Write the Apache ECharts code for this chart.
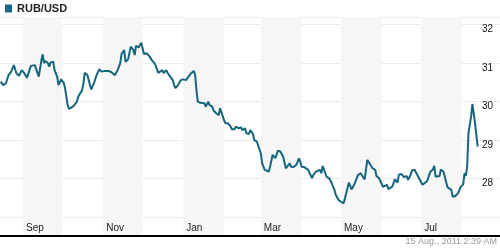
<!DOCTYPE html>
<html><head><meta charset="utf-8">
<script src="https://cdn.jsdelivr.net/npm/echarts@6/dist/echarts.min.js"></script>
<style>html,body{margin:0;padding:0;background:#fff}#c{width:500px;height:250px}</style>
</head><body><div id="c"></div>
<script>
const seriesName = 'RUB/USD';
const dates = [
'2010-08-15','2010-08-17','2010-08-19','2010-08-21','2010-08-23','2010-08-25','2010-08-26','2010-08-27','2010-08-29','2010-08-31',
'2010-09-02','2010-09-04','2010-09-05','2010-09-07','2010-09-08','2010-09-10','2010-09-11','2010-09-13','2010-09-14','2010-09-15','2010-09-16','2010-09-17','2010-09-18','2010-09-20','2010-09-21','2010-09-22','2010-09-24','2010-09-25','2010-09-27','2010-09-28','2010-09-29','2010-09-30',
'2010-10-02','2010-10-03','2010-10-05','2010-10-06','2010-10-08','2010-10-10','2010-10-12','2010-10-13','2010-10-14','2010-10-16','2010-10-17','2010-10-18','2010-10-20','2010-10-21','2010-10-22','2010-10-23','2010-10-25','2010-10-27','2010-10-28','2010-10-29','2010-10-31',
'2010-11-02','2010-11-03','2010-11-05','2010-11-07','2010-11-08','2010-11-10','2010-11-11','2010-11-12','2010-11-14','2010-11-15','2010-11-17','2010-11-18','2010-11-20','2010-11-21','2010-11-22','2010-11-24','2010-11-25','2010-11-26','2010-11-28','2010-11-30',
'2010-12-01','2010-12-02','2010-12-04','2010-12-06','2010-12-08','2010-12-10','2010-12-11','2010-12-13','2010-12-14','2010-12-16','2010-12-17','2010-12-19','2010-12-20','2010-12-22','2010-12-24','2010-12-25','2010-12-26','2010-12-28','2010-12-30',
'2011-01-01','2011-01-03','2011-01-05','2011-01-07','2011-01-09','2011-01-10','2011-01-11','2011-01-12','2011-01-14','2011-01-15','2011-01-17','2011-01-18','2011-01-20','2011-01-21','2011-01-23','2011-01-24','2011-01-26','2011-01-27','2011-01-28','2011-01-29','2011-01-30',
'2011-02-01','2011-02-02','2011-02-04','2011-02-06','2011-02-07','2011-02-09','2011-02-10','2011-02-12','2011-02-14','2011-02-15','2011-02-17','2011-02-18','2011-02-20','2011-02-21','2011-02-23','2011-02-24','2011-02-26','2011-02-27',
'2011-03-01','2011-03-02','2011-03-04','2011-03-05','2011-03-07','2011-03-08','2011-03-10','2011-03-11','2011-03-12','2011-03-14','2011-03-16','2011-03-18','2011-03-20','2011-03-21','2011-03-23','2011-03-24','2011-03-26','2011-03-28','2011-03-30','2011-03-31',
'2011-04-01','2011-04-03','2011-04-04','2011-04-06','2011-04-07','2011-04-09','2011-04-10','2011-04-12','2011-04-13','2011-04-15','2011-04-16','2011-04-17','2011-04-18','2011-04-20','2011-04-22','2011-04-24','2011-04-26','2011-04-27','2011-04-29',
'2011-05-01','2011-05-03','2011-05-04','2011-05-05','2011-05-07','2011-05-08','2011-05-09','2011-05-11','2011-05-12','2011-05-14','2011-05-16','2011-05-17','2011-05-19','2011-05-20','2011-05-21','2011-05-23','2011-05-24','2011-05-25','2011-05-27','2011-05-28','2011-05-30','2011-05-31',
'2011-06-02','2011-06-05','2011-06-06','2011-06-09','2011-06-11','2011-06-13','2011-06-14','2011-06-16','2011-06-18','2011-06-20','2011-06-21','2011-06-23','2011-06-24','2011-06-26','2011-06-28','2011-06-30',
'2011-07-02','2011-07-03','2011-07-05','2011-07-06','2011-07-08','2011-07-10','2011-07-11','2011-07-12','2011-07-13','2011-07-15','2011-07-16','2011-07-18','2011-07-19','2011-07-21','2011-07-22','2011-07-24','2011-07-25','2011-07-27','2011-07-29','2011-07-31',
'2011-08-02','2011-08-03','2011-08-04','2011-08-05','2011-08-06','2011-08-08','2011-08-09','2011-08-10','2011-08-11','2011-08-13'
];
const values = [
30.51,30.42,30.47,30.68,30.77,30.94,30.92,30.73,30.66,30.81,
30.73,30.61,30.64,30.92,30.88,30.94,30.96,30.64,30.60,31.07,31.22,30.99,31.05,30.99,30.90,31.01,31.03,30.81,30.64,30.42,30.44,30.57,
30.48,30.34,29.90,29.80,29.84,29.90,29.99,30.12,30.08,30.29,30.47,30.74,30.68,30.64,30.42,30.31,30.47,30.68,30.66,30.83,30.77,
30.79,30.76,30.79,30.76,30.79,30.68,30.64,30.81,30.99,31.23,31.33,31.03,31.09,31.12,31.42,31.33,31.20,31.44,31.40,31.52,
31.38,31.23,31.25,31.18,31.07,30.99,30.92,30.74,30.77,30.81,30.73,30.81,30.74,30.64,30.55,30.42,30.34,30.42,30.55,
30.57,30.55,30.64,30.73,30.79,30.68,30.29,29.99,29.96,30.01,29.95,29.86,29.99,29.90,29.86,29.76,29.69,29.70,29.64,29.82,29.77,
29.51,29.43,29.43,29.34,29.27,29.28,29.34,29.30,29.32,29.25,29.30,29.17,29.15,29.25,29.15,28.99,28.95,28.84,
28.65,28.39,28.22,28.17,28.17,28.30,28.61,28.65,28.52,28.72,28.69,28.56,28.26,28.23,28.39,28.30,28.29,28.35,28.52,28.43,
28.30,28.29,28.26,28.22,28.23,28.00,28.09,28.17,28.22,28.22,28.13,28.32,28.29,28.04,28.00,27.87,27.70,27.57,27.44,
27.39,27.35,27.39,27.61,27.89,27.87,27.71,27.83,27.87,28.09,28.13,28.09,27.97,28.22,28.48,28.37,28.41,28.26,28.22,28.06,28.00,28.03,
27.78,27.83,27.72,27.78,27.97,27.89,28.09,28.11,28.03,28.06,27.96,28.09,28.20,28.22,28.09,27.96,
27.83,27.81,27.91,27.97,28.17,28.23,28.32,28.04,28.09,28.06,28.23,28.17,28.13,27.77,27.74,27.70,27.52,27.54,27.61,27.77,
27.84,28.13,28.06,28.30,29.17,29.60,29.93,29.90,29.43,28.82
];
const monthTickIndex = [8, 10, 0, 2, 4, 6];
const monthTickLabels = ['Sep', 'Nov', 'Jan', 'Mar', 'May', 'Jul'];
const yTickLabels = [28, 29, 30, 31, 32];
const stampText = '15 Aug., 2011 2:39 AM';
const xMin = '2010-08-14 12:00';
const xMax = '2011-08-30';
const yMin = 26.5, yMax = 32.19, yStep = 0.5;

const FONT = '"Liberation Sans", Arial, sans-serif';
const gridColors = [];
for (let v = yMin; v <= 32 + 1e-9; v += yStep) {
  const r = Math.round(v * 10) / 10;
  gridColors.push(Number.isInteger(r) && r >= 27 ? '#ebebeb' : 'rgba(0,0,0,0)');
}
gridColors.push('#ebebeb');

const chart = echarts.init(document.getElementById('c'), null, {renderer: 'canvas'});
chart.setOption({
  animation: false,
  backgroundColor: '#fff',
  legend: {
    data: [seriesName], left: 5, top: 3, padding: 0, icon: 'rect',
    itemWidth: 7, itemHeight: 8, selectedMode: false,
    textStyle: {fontFamily: FONT, fontWeight: 'bold', fontSize: 11, color: '#222'}
  },
  graphic: [{
    type: 'text', right: 3, top: 237,
    style: {text: stampText, fill: '#999', font: '9px ' + FONT}
  }],
  grid: {left: 0, right: 0, top: 17, bottom: 14, containLabel: false},
  xAxis: {
    type: 'time', min: xMin, max: xMax,
    minInterval: 28 * 864e5, maxInterval: 31 * 864e5,
    axisLine: {show: true, lineStyle: {color: '#000', width: 2}},
    axisTick: {show: false},
    splitLine: {show: false},
    splitArea: {show: true, areaStyle: {color: ['rgba(255,255,255,0)', '#f6f6f6']}},
    axisLabel: {
      inside: true, margin: 3, align: 'left', padding: [0, 0, 0, 3],
      color: '#222', fontSize: 10, fontFamily: FONT,
      formatter: function (val) {
        const d = new Date(val);
        if (d.getDate() !== 1 || d.getHours() !== 0) return '';
        const k = monthTickIndex.indexOf(d.getMonth());
        return k < 0 ? '' : monthTickLabels[k];
      }
    }
  },
  yAxis: {
    type: 'value', position: 'right', min: yMin, max: yMax, interval: yStep,
    axisLine: {show: false}, axisTick: {show: false},
    splitLine: {show: true, lineStyle: {color: gridColors, width: 1}},
    axisLabel: {
      inside: true, margin: 7, verticalAlign: 'top',
      color: '#111', fontSize: 10, fontFamily: FONT,
      formatter: function (v) {
        const r = Math.round(v * 100) / 100;
        return yTickLabels.indexOf(r) >= 0 ? String(r) : '';
      }
    }
  },
  series: [{
    name: seriesName, type: 'line', showSymbol: false,
    data: dates.map((d, i) => [d, values[i]]),
    lineStyle: {color: '#16657f', width: 2},
    itemStyle: {color: '#1a6887'}
  }]
});
</script></body></html>
